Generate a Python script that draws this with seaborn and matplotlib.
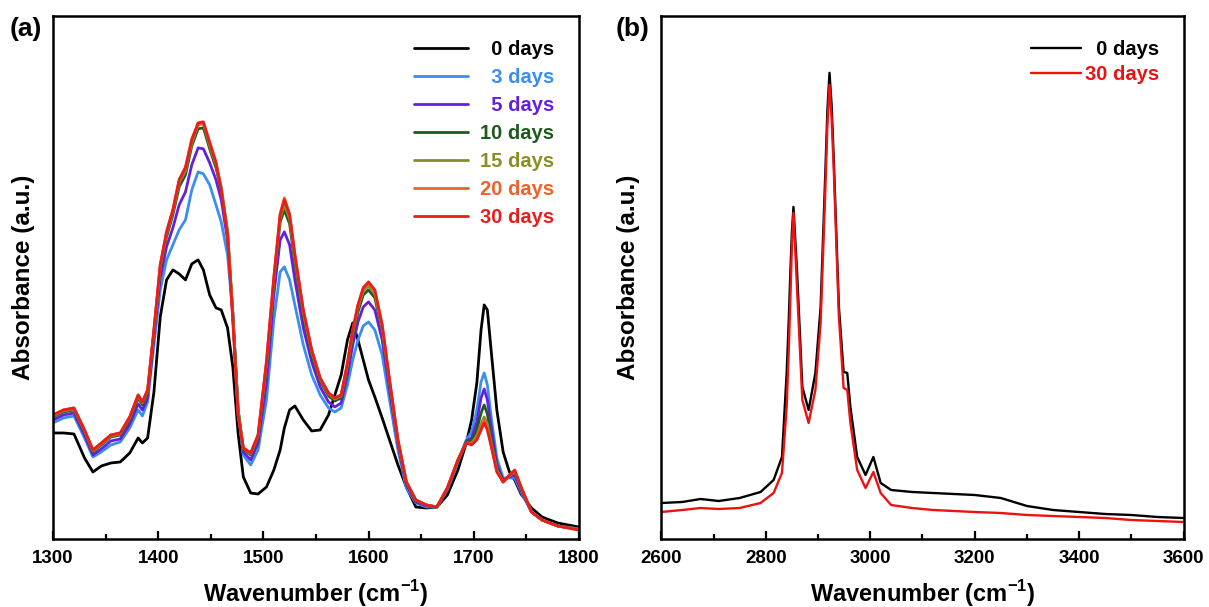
import numpy as np
import pandas as pd
import seaborn as sns
import matplotlib.pyplot as plt
from matplotlib.ticker import MultipleLocator

# ---- panel (a): 1300-1800 cm-1 (a.u.)
wn_a = [1300, 1310, 1320, 1330, 1338, 1346, 1355, 1364, 1373, 1381,
        1385, 1390, 1396, 1402, 1408, 1414, 1420, 1426, 1432, 1438,
        1443, 1449, 1455, 1460, 1466, 1471, 1476, 1481, 1488, 1495,
        1503, 1510, 1516, 1520, 1525, 1530, 1538, 1546, 1554, 1562,
        1568, 1574, 1580, 1585, 1590, 1595, 1600, 1606, 1613, 1620,
        1628, 1636, 1645, 1655, 1665, 1675, 1685, 1693, 1698, 1703,
        1707, 1710, 1713, 1717, 1722, 1728, 1734, 1739, 1745, 1755,
        1765, 1780, 1800]

abs_0d = [106, 106, 105, 81, 67, 73, 76, 77, 86, 101,
          96, 101, 147, 222, 259, 269, 265, 259, 275, 279,
          269, 244, 231, 229, 211, 172, 106, 62, 46, 45,
          52, 69, 89, 111, 129, 133, 119, 108, 109, 124,
          144, 164, 199, 216, 199, 179, 159, 142, 121, 99,
          74, 52, 32, 31, 32, 44, 69, 96, 119, 156,
          209, 234, 229, 184, 129, 87, 67, 59, 45, 31,
          22, 16, 12]
abs_3d = [116, 121, 123, 101, 82, 87, 94, 97, 111, 129,
          123, 137, 194, 249, 279, 294, 309, 319, 349, 367,
          365, 354, 334, 317, 284, 224, 129, 84, 74, 89,
          139, 219, 267, 272, 259, 234, 194, 164, 144, 131,
          127, 131, 154, 179, 199, 213, 217, 209, 184, 139,
          89, 51, 36, 32, 32, 49, 77, 99, 107, 129,
          157, 166, 154, 119, 81, 61, 61, 61, 47, 27,
          19, 13, 10]
abs_5d = [119, 124, 126, 104, 84, 90, 98, 100, 115, 135,
          129, 141, 201, 261, 292, 311, 334, 347, 374, 391,
          390, 376, 359, 339, 299, 226, 129, 87, 79, 96,
          156, 244, 299, 307, 294, 259, 211, 177, 152, 137,
          132, 136, 164, 194, 217, 232, 237, 229, 199, 149,
          94, 54, 37, 33, 32, 50, 78, 98, 101, 117,
          141, 150, 139, 109, 75, 59, 62, 64, 49, 27,
          19, 13, 10]
abs_10d = [122, 127, 129, 107, 87, 94, 102, 104, 119, 141,
           134, 146, 206, 269, 302, 324, 352, 364, 393, 410,
           411, 390, 371, 349, 306, 225, 129, 90, 84, 101,
           171, 256, 317, 329, 315, 275, 222, 184, 158, 143,
           138, 141, 171, 203, 227, 244, 249, 241, 209, 155,
           97, 56, 38, 34, 32, 51, 79, 97, 98, 109,
           126, 134, 125, 99, 71, 58, 63, 67, 51, 27,
           19, 13, 10]
abs_15d = [123, 128, 130, 108, 88, 95, 103, 105, 121, 143,
           136, 148, 208, 272, 305, 327, 356, 368, 396, 414,
           415, 393, 374, 352, 308, 226, 129, 91, 85, 103,
           174, 258, 321, 334, 320, 280, 226, 187, 160, 145,
           140, 143, 174, 206, 231, 248, 253, 245, 211, 157,
           98, 57, 39, 34, 32, 51, 79, 96, 96, 103,
           115, 122, 115, 94, 69, 57, 63, 68, 52, 27,
           19, 13, 10]
abs_20d = [124, 129, 131, 109, 89, 96, 104, 106, 122, 144,
           137, 149, 209, 274, 307, 329, 359, 372, 400, 415,
           416, 397, 377, 350, 305, 220, 124, 91, 86, 104,
           178, 262, 325, 341, 325, 285, 229, 189, 161, 146,
           141, 144, 176, 209, 234, 251, 256, 248, 214, 159,
           99, 57, 39, 34, 32, 51, 79, 96, 95, 100,
           111, 119, 111, 92, 68, 57, 64, 68, 52, 27,
           19, 13, 9]
abs_30d = [124, 129, 131, 109, 89, 96, 104, 106, 122, 144,
           137, 149, 209, 274, 307, 329, 359, 371, 399, 416,
           417, 396, 376, 349, 304, 219, 124, 91, 86, 104,
           177, 261, 324, 339, 324, 284, 229, 189, 161, 146,
           141, 144, 176, 209, 234, 251, 257, 249, 214, 159,
           99, 57, 39, 34, 32, 51, 79, 96, 94, 99,
           109, 116, 109, 91, 67, 57, 64, 69, 52, 27,
           19, 13, 9]

days_a = ['0 days', '3 days', '5 days', '10 days', '15 days', '20 days', '30 days']
colores_a = ['#000000', '#3a8ef0', '#6420e0', '#1e5a1e', '#8c8c28', '#f0602a', '#e81e1e']

# ---- panel (b): 2600-3600 cm-1
wn_b = [2600, 2640, 2675, 2710, 2750, 2790, 2815, 2831, 2840, 2844,
        2847, 2850, 2853, 2856, 2860, 2870, 2882, 2895, 2905, 2914,
        2918, 2922, 2926, 2930, 2940, 2949, 2956, 2962, 2975, 2991,
        3006, 3020, 3040, 3080, 3120, 3160, 3200, 3250, 3300, 3350,
        3400, 3450, 3500, 3550, 3600]
abs_b_0d = [36, 37, 40, 38, 41, 47, 59, 82, 166, 219,
            266, 307, 332, 304, 266, 152, 129, 166, 232, 366,
            429, 466, 434, 382, 232, 167, 166, 132, 82, 64,
            82, 56, 49, 47, 46, 45, 44, 41, 33, 29,
            27, 25, 24, 22, 21]
abs_b_30d = [27, 29, 31, 30, 31, 36, 46, 66, 132, 189,
             239, 294, 326, 294, 249, 139, 116, 149, 216, 349,
             414, 454, 421, 372, 222, 151, 149, 116, 69, 51,
             67, 46, 34, 31, 29, 28, 27, 26, 24, 23,
             22, 21, 19, 18, 17]

days_b = ['0 days', '30 days']
colores_b = ['#000000', '#ee1111']

sns.set_theme(style='ticks')
plt.rcParams['font.family'] = ['Liberation Sans', 'DejaVu Sans']
plt.rcParams['font.weight'] = 'bold'
plt.rcParams['axes.labelweight'] = 'bold'
plt.rcParams['text.color'] = 'black'
plt.rcParams['axes.labelcolor'] = 'black'
plt.rcParams['xtick.color'] = 'black'
plt.rcParams['ytick.color'] = 'black'
plt.rcParams['mathtext.fontset'] = 'custom'
plt.rcParams['mathtext.rm'] = 'Liberation Sans:bold'
plt.rcParams['mathtext.bf'] = 'Liberation Sans:bold'
plt.rcParams['lines.solid_joinstyle'] = 'round'

fig = plt.figure(figsize=(12.09, 6.07), dpi=100)
ax1 = fig.add_axes([0.0438, 0.112, 0.435, 0.862])
ax2 = fig.add_axes([0.547, 0.112, 0.432, 0.862])

series_a = [abs_0d, abs_3d, abs_5d, abs_10d, abs_15d, abs_20d, abs_30d]
df_a = pd.DataFrame({
    'wn': wn_a * len(series_a),
    'A': np.concatenate(series_a),
    'Muestra': np.repeat(days_a, len(wn_a)),
})
sns.lineplot(data=df_a, x='wn', y='A', hue='Muestra', hue_order=days_a,
             palette=colores_a, lw=2.0, ax=ax1, legend=False,
             estimator=None, sort=False)

df_b = pd.DataFrame({
    'wn': wn_b * 2,
    'A': np.concatenate([abs_b_0d, abs_b_30d]),
    'Muestra': np.repeat(days_b, len(wn_b)),
})
sns.lineplot(data=df_b, x='wn', y='A', hue='Muestra', hue_order=days_b,
             palette=colores_b, lw=1.7, ax=ax2, legend=False,
             estimator=None, sort=False)


def formato_eje(ax, xmin, xmax, mayor, menor, etiquetas, colores,
                lpad, hlen, espacio, ycoord):
    ax.set_xlim(xmin, xmax)
    ax.set_ylim(0, 523)
    ax.set_yticks([])
    ax.xaxis.set_major_locator(MultipleLocator(mayor))
    ax.xaxis.set_minor_locator(MultipleLocator(menor))
    ax.tick_params(axis='x', which='major', direction='in', length=6, width=1.6,
                   labelsize=13.5, pad=8, colors='black')
    ax.tick_params(axis='x', which='minor', direction='in', length=3.5, width=1.6)
    for s in ax.spines.values():
        s.set_linewidth(1.8)
        s.set_color('black')
    ax.set_xlabel(r'Wavenumber (cm$^{\mathbf{-1}}$)', fontsize=17, labelpad=8,
                  color='black')
    ax.set_ylabel('Absorbance (a.u.)', fontsize=17.5, color='black')
    ax.yaxis.set_label_coords(ycoord, 0.5)
    # texto alineado a la derecha usando espacios de cifra
    ancho = max(len(e) for e in etiquetas)
    labels = ['\u2007' * (ancho - len(e)) + e for e in etiquetas]
    leg = ax.legend(ax.get_lines(), labels, loc='upper right', frameon=False,
                    fontsize=14.5, handlelength=hlen, handletextpad=lpad,
                    labelspacing=espacio, borderaxespad=0.8)
    for t, c in zip(leg.get_texts(), colores):
        t.set_color(c)
        t.set_fontweight('bold')


formato_eje(ax1, 1300, 1800, 100, 50, days_a, colores_a, 0.6, 2.7, 0.45, -0.034)
formato_eje(ax2, 2600, 3600, 200, 100, days_b, colores_b, 0.2, 2.5, 0.3, -0.040)

fig.text(0.008, 0.953, '(a)', fontsize=19, fontweight='bold', va='center')
fig.text(0.509, 0.953, '(b)', fontsize=19, fontweight='bold', va='center')

fig.savefig('out.png', dpi=100)
